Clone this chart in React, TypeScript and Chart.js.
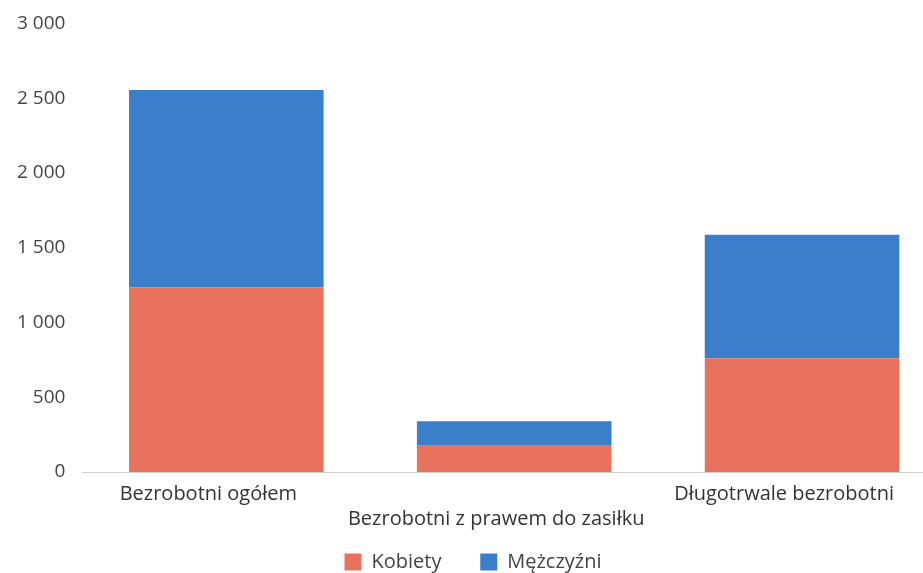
import React, { useEffect, useRef } from "react";
import { Chart, registerables } from "chart.js";

Chart.register(...registerables);

const categories: (string | string[])[] = [
  "Bezrobotni ogółem",
  ["", "Bezrobotni z prawem do zasiłku"],
  "Długotrwale bezrobotni",
];
const kobiety = [1235, 175, 760];
const mezczyzni = [1320, 165, 827];
const seriesNames = ["Kobiety", "Mężczyźni"];
const yMin = 0;
const yMax = 3000;
const yStep = 500;

const FONT = "'Open Sans', 'Noto Sans', sans-serif";

function fmt(v: number): string {
  return String(v).replace(/\B(?=(\d{3})+(?!\d))/g, " ");
}

export default function App() {
  const ref = useRef<HTMLCanvasElement | null>(null);
  useEffect(() => {
    if (!ref.current) return;
    const chart = new Chart(ref.current, {
      type: "bar",
      data: {
        labels: categories,
        datasets: [
          {
            label: seriesNames[0],
            data: kobiety,
            backgroundColor: "#E9725F",
            borderWidth: 0,
          },
          {
            label: seriesNames[1],
            data: mezczyzni,
            backgroundColor: "#3B7FCA",
            borderWidth: 0,
          },
        ],
      },
      options: {
        animation: false,
        responsive: true,
        maintainAspectRatio: false,
        layout: { padding: { top: 4, left: 0, right: 4, bottom: 0 } },
        datasets: { bar: { categoryPercentage: 1, barPercentage: 0.676 } },
        plugins: {
          legend: {
            position: "bottom",
            labels: {
              font: { family: FONT, size: 20 },
              color: "#444",
              boxWidth: 17,
              boxHeight: 17,
              padding: 18,
              generateLabels: (c: any) => {
                const items = Chart.defaults.plugins.legend.labels.generateLabels(c);
                return items.map((it: any, i: number) =>
                  i < items.length - 1 ? { ...it, text: it.text + "    " } : it
                );
              },
            },
          },
          tooltip: { enabled: false },
        },
        scales: {
          x: {
            stacked: true,
            grid: { display: false, drawTicks: false },
            border: { display: true, color: "#d0d0d0", dash: [2, 3] },
            afterFit: (scale: any) => {
              scale.height = 62;
            },
            ticks: {
              font: { family: FONT, size: 20, lineHeight: 1.25 },
              color: "#333",
              padding: 10,
              maxRotation: 0,
              autoSkip: false,
              labelOffset: -18,
            },
          },
          y: {
            stacked: true,
            min: yMin,
            max: yMax,
            grid: { display: false, drawTicks: false },
            border: { display: false },
            ticks: {
              stepSize: yStep,
              font: { family: FONT, size: 19 },
              color: "#444",
              padding: 17,
              callback: (v: any) => fmt(Number(v)),
            },
          },
        },
      },
    });
    return () => chart.destroy();
  }, []);
  return (
    <div
      style={{
        position: "fixed",
        left: 0,
        top: 0,
        width: 923,
        height: 573,
        overflow: "hidden",
        background: "#fff",
      }}
    >
      <div style={{ position: "absolute", left: 0, top: -5, width: 950, height: 587 }}>
        <canvas ref={ref} />
      </div>
    </div>
  );
}
